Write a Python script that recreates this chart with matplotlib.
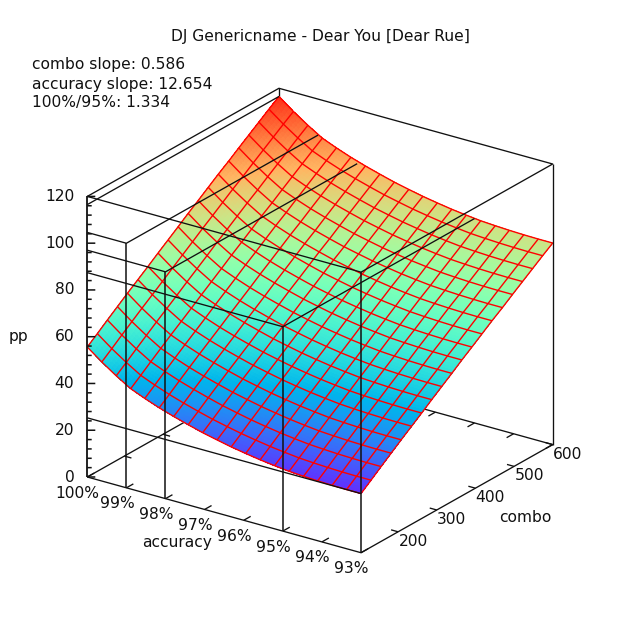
import numpy as np
import matplotlib
matplotlib.use("Agg")
import matplotlib.pyplot as plt
from mpl_toolkits.mplot3d import proj3d

title = "DJ Genericname - Dear You [Dear Rue]"
notes = ["combo slope: 0.586", "accuracy slope: 12.654", "100%/95%: 1.334"]

accuracy_grid = [100, 99.63, 99.26, 98.89, 98.53, 98.16, 97.79, 97.42, 97.05, 96.68,
                 96.32, 95.95, 95.58, 95.21, 94.84, 94.47, 94.11, 93.74, 93.37, 93]
combo_grid = [104, 130, 156, 182, 208, 235, 261, 287, 313, 339,
              365, 391, 417, 443, 470, 496, 522, 548, 574, 600]
# one row per accuracy, one column per combo
pp_table = [
    [55.6, 58.9, 62.3, 65.6, 68.9, 72.2, 75.4, 78.7, 81.9, 85.1, 88.4, 91.5, 94.7, 97.9, 101.0, 104.2, 107.3, 110.4, 113.5, 116.5],
    [50.9, 54.2, 57.6, 60.9, 64.2, 67.5, 70.7, 74.0, 77.2, 80.4, 83.7, 86.8, 90.0, 93.2, 96.3, 99.5, 102.6, 105.7, 108.8, 111.8],
    [46.7, 50.0, 53.4, 56.7, 60.0, 63.3, 66.5, 69.8, 73.0, 76.2, 79.5, 82.6, 85.8, 89.0, 92.1, 95.3, 98.4, 101.5, 104.6, 107.6],
    [42.9, 46.2, 49.6, 52.9, 56.2, 59.5, 62.7, 66.0, 69.2, 72.4, 75.7, 78.8, 82.0, 85.2, 88.3, 91.5, 94.6, 97.7, 100.8, 103.8],
    [40.4, 43.7, 47.1, 50.4, 53.7, 57.0, 60.2, 63.5, 66.7, 69.9, 73.2, 76.3, 79.5, 82.7, 85.8, 89.0, 92.1, 95.2, 98.3, 101.3],
    [38.1, 41.4, 44.8, 48.1, 51.4, 54.7, 57.9, 61.2, 64.4, 67.6, 70.9, 74.0, 77.2, 80.4, 83.5, 86.7, 89.8, 92.9, 96.0, 99.0],
    [36.1, 39.4, 42.8, 46.1, 49.4, 52.7, 55.9, 59.2, 62.4, 65.6, 68.9, 72.0, 75.2, 78.4, 81.5, 84.7, 87.8, 90.9, 94.0, 97.0],
    [34.3, 37.6, 41.0, 44.3, 47.6, 50.9, 54.1, 57.4, 60.6, 63.8, 67.1, 70.2, 73.4, 76.6, 79.7, 82.9, 86.0, 89.1, 92.2, 95.2],
    [32.6, 35.9, 39.3, 42.6, 45.9, 49.2, 52.4, 55.7, 58.9, 62.1, 65.4, 68.5, 71.7, 74.9, 78.0, 81.2, 84.3, 87.4, 90.5, 93.5],
    [31.2, 34.5, 37.9, 41.2, 44.5, 47.8, 51.0, 54.3, 57.5, 60.7, 64.0, 67.1, 70.3, 73.5, 76.6, 79.8, 82.9, 86.0, 89.1, 92.1],
    [29.9, 33.2, 36.6, 39.9, 43.2, 46.5, 49.7, 53.0, 56.2, 59.4, 62.7, 65.8, 69.0, 72.2, 75.3, 78.5, 81.6, 84.7, 87.8, 90.8],
    [28.8, 32.1, 35.5, 38.8, 42.1, 45.4, 48.6, 51.9, 55.1, 58.3, 61.6, 64.7, 67.9, 71.1, 74.2, 77.4, 80.5, 83.6, 86.7, 89.7],
    [27.8, 31.1, 34.5, 37.8, 41.1, 44.4, 47.6, 50.9, 54.1, 57.3, 60.6, 63.7, 66.9, 70.1, 73.2, 76.4, 79.5, 82.6, 85.7, 88.7],
    [27.0, 30.3, 33.7, 37.0, 40.3, 43.6, 46.8, 50.1, 53.3, 56.5, 59.8, 62.9, 66.1, 69.3, 72.4, 75.6, 78.7, 81.8, 84.9, 87.9],
    [26.3, 29.6, 33.0, 36.3, 39.6, 42.9, 46.1, 49.4, 52.6, 55.8, 59.1, 62.2, 65.4, 68.6, 71.7, 74.9, 78.0, 81.1, 84.2, 87.2],
    [25.9, 29.2, 32.6, 35.9, 39.2, 42.5, 45.7, 49.0, 52.2, 55.4, 58.7, 61.8, 65.0, 68.2, 71.3, 74.5, 77.6, 80.7, 83.8, 86.8],
    [25.6, 28.9, 32.3, 35.6, 38.9, 42.2, 45.4, 48.7, 51.9, 55.1, 58.4, 61.5, 64.7, 67.9, 71.0, 74.2, 77.3, 80.4, 83.5, 86.5],
    [25.4, 28.7, 32.1, 35.4, 38.7, 42.0, 45.2, 48.5, 51.7, 54.9, 58.2, 61.3, 64.5, 67.7, 70.8, 74.0, 77.1, 80.2, 83.3, 86.3],
    [25.3, 28.6, 32.0, 35.3, 38.6, 41.9, 45.1, 48.4, 51.6, 54.8, 58.1, 61.2, 64.4, 67.6, 70.7, 73.9, 77.0, 80.1, 83.2, 86.2],
    [25.3, 28.6, 32.0, 35.3, 38.6, 41.9, 45.1, 48.4, 51.6, 54.8, 58.1, 61.2, 64.4, 67.6, 70.7, 73.9, 77.0, 80.1, 83.2, 86.2],
]

accuracy_ticks = [100, 99, 98, 97, 96, 95, 94, 93]
accuracy_tick_labels = ["100%", "99%", "98%", "97%", "96%", "95%", "94%", "93%"]
combo_ticks = [200, 300, 400, 500, 600]
pp_major_ticks = [0, 20, 40, 60, 80, 100, 120]
pp_minor_ticks = [v for v in range(0, 121, 4) if v % 20]
# reference levels: accuracy, pp reached at that accuracy with the full combo
marked_accuracy = [99, 98, 95]
marked_pp = [104.6, 97.0, 87.4]
top_pp = 116.5
floor_pp = 25.3

ACC_HI, ACC_LO = 100, 93
COMBO_LO, COMBO_HI = 104, 600
PP_LO, PP_HI = 0, 120
CB_LO, CB_HI = 19, 122

plt.rcParams["font.family"] = "DejaVu Sans"
INK = "#111111"
TS = 11.2

fig = plt.figure(figsize=(6.4, 6.4), dpi=100, facecolor="white")
ax = fig.add_axes([0, 0, 1, 1], projection="3d", proj_type="ortho")
ax.computed_zorder = False
ax.set_axis_off()
ax.view_init(elev=23.27, azim=-55)
ax.set_box_aspect((1, 1, 0.914))

A = np.array(accuracy_grid, float)
C = np.array(combo_grid, float)
P = np.array(pp_table, float)


def palette(x):
    r = np.clip(np.abs(2 * x - 0.5), 0, 1)
    g = np.clip(np.sin(np.pi * x), 0, 1)
    b = np.clip(np.cos(np.pi * x / 2), 0, 1)
    return np.stack([r, g, b, np.ones_like(x)], axis=-1)


# fill: each table cell is split into small patches only to shade it smoothly
SUB = 5
u = np.linspace(0, len(A) - 1, (len(A) - 1) * SUB + 1)
v = np.linspace(0, len(C) - 1, (len(C) - 1) * SUB + 1)
ii = np.clip(np.floor(u).astype(int), 0, len(A) - 2)
jj = np.clip(np.floor(v).astype(int), 0, len(C) - 2)
fu = (u - ii)[:, None]
fv = (v - jj)[None, :]
Pf = (P[ii][:, jj] * (1 - fu) * (1 - fv) + P[ii + 1][:, jj] * fu * (1 - fv)
      + P[ii][:, jj + 1] * (1 - fu) * fv + P[ii + 1][:, jj + 1] * fu * fv)
Af = np.interp(u, np.arange(len(A)), A)
Cf = np.interp(v, np.arange(len(C)), C)
CCf, AAf = np.meshgrid(Cf, Af)
mid = (Pf[:-1, :-1] + Pf[1:, :-1] + Pf[:-1, 1:] + Pf[1:, 1:]) / 4
cols = palette((mid - CB_LO) / (CB_HI - CB_LO))

ax.plot_surface(AAf, CCf, Pf, facecolors=cols, rstride=1, cstride=1, shade=False,
                linewidth=0, antialiased=False, zorder=2)
CC, AA = np.meshgrid(C, A)
ax.plot_wireframe(AA, CC, P, rstride=1, cstride=1, color="#ff0000", linewidth=1.0, zorder=3)


def seg(a, c, z, zo=5, lw=0.95):
    ax.plot(a, c, z, color=INK, linewidth=lw, zorder=zo, solid_capstyle="butt")


# box: parts behind the surface
seg([ACC_HI, ACC_HI], [COMBO_LO, COMBO_HI], [PP_LO, PP_LO], zo=1)
seg([ACC_HI, ACC_LO], [COMBO_HI, COMBO_HI], [PP_LO, PP_LO], zo=1)
seg([ACC_HI, ACC_HI], [COMBO_HI, COMBO_HI], [PP_LO, PP_HI], zo=1)
# box: parts in front
seg([ACC_HI, ACC_LO, ACC_LO], [COMBO_LO, COMBO_LO, COMBO_HI], [PP_LO, PP_LO, PP_LO])
seg([ACC_LO, ACC_LO], [COMBO_LO, COMBO_LO], [PP_LO, PP_HI], lw=1.1)
seg([ACC_LO, ACC_LO], [COMBO_HI, COMBO_HI], [PP_LO, PP_HI])
seg([ACC_HI, ACC_HI], [COMBO_LO, COMBO_LO], [PP_LO, PP_HI], lw=1.3)
seg([ACC_HI, ACC_LO, ACC_LO, ACC_HI, ACC_HI],
    [COMBO_LO, COMBO_LO, COMBO_HI, COMBO_HI, COMBO_LO], [PP_HI] * 5)

# reference levels
seg([ACC_HI, ACC_HI], [COMBO_LO, COMBO_HI], [top_pp, top_pp])
seg([ACC_HI, ACC_LO], [COMBO_LO, COMBO_LO], [floor_pp, floor_pp])
for a, z in zip(marked_accuracy, marked_pp):
    seg([ACC_HI, a, a], [COMBO_LO, COMBO_LO, COMBO_HI], [z, z, z])
    seg([a, a], [COMBO_LO, COMBO_LO], [PP_LO, z], lw=1.1)

# tick marks
combo_span = COMBO_HI - COMBO_LO
TICK_C = 18 / 496 * combo_span
TICK_A = 0.18
for a in accuracy_ticks:
    seg([a, a], [COMBO_LO, COMBO_LO + TICK_C], [PP_LO, PP_LO], zo=5)
    seg([a, a], [COMBO_HI, COMBO_HI - TICK_C], [PP_LO, PP_LO], zo=1)
for c in combo_ticks:
    seg([ACC_LO, ACC_LO + TICK_A], [c, c], [PP_LO, PP_LO], zo=5)
    seg([ACC_HI, ACC_HI - TICK_A], [c, c], [PP_LO, PP_LO], zo=1)
# pp ticks run level on screen: combination of both floor directions
for zs, k in ((pp_major_ticks, 1.0), (pp_minor_ticks, 0.55)):
    for z in zs:
        seg([ACC_HI, ACC_HI - 0.137 * k], [COMBO_LO, COMBO_LO + 6.87 * k], [z, z], lw=1.1)

ax.set_xlim(ACC_HI, ACC_LO)
ax.set_ylim(COMBO_LO, COMBO_HI)
ax.set_zlim(PP_LO, PP_HI)


# fit the axes so that the box corners land where the reference has them
def pix(a, c, z):
    x, y, _ = proj3d.proj_transform(a, c, z, ax.get_proj())
    return ax.transData.transform((x, y))


p0 = pix(ACC_HI, COMBO_LO, PP_LO)
p1 = pix(ACC_LO, COMBO_HI, PP_HI)
tx0, ty0 = 87.0, 640 - 477.0
tx1, ty1 = 553.0, 640 - 164.0
kx = (tx1 - tx0) / (p1[0] - p0[0])
ky = (ty1 - ty0) / (p1[1] - p0[1])
ax.set_position([(tx0 - kx * p0[0]) / 640, (ty0 - ky * p0[1]) / 640, kx, ky])


def label(a, c, z, s, dx, dy, **kw):
    x, y, _ = proj3d.proj_transform(a, c, z, ax.get_proj())
    kw.setdefault("ha", "center")
    ax.annotate(s, xy=(x, y), xycoords="data", xytext=(dx, -dy), textcoords="offset pixels",
                va="center", annotation_clip=False, fontsize=TS, color=INK, **kw)


for a, s in zip(accuracy_ticks, accuracy_tick_labels):
    label(a, COMBO_LO, PP_LO, s, -9.5, 16)
for c in combo_ticks:
    label(ACC_LO, c, PP_LO, str(c), 15, 9.5)
for z in pp_major_ticks:
    label(ACC_HI, COMBO_LO, z, str(z), -13, 0, ha="right")


def ftext(px, py, s, **kw):
    kw.setdefault("ha", "center")
    fig.text(px / 640, 1 - py / 640, s, va="center", fontsize=TS, color=INK, **kw)


ftext(320, 36, title)
for py, s in zip((64, 84, 102), notes):
    ftext(32, py, s, ha="left")
ftext(18, 337, "pp")
ftext(177, 542, "accuracy")
ftext(525, 518, "combo")

fig.savefig("out.png", dpi=100, facecolor="white")
